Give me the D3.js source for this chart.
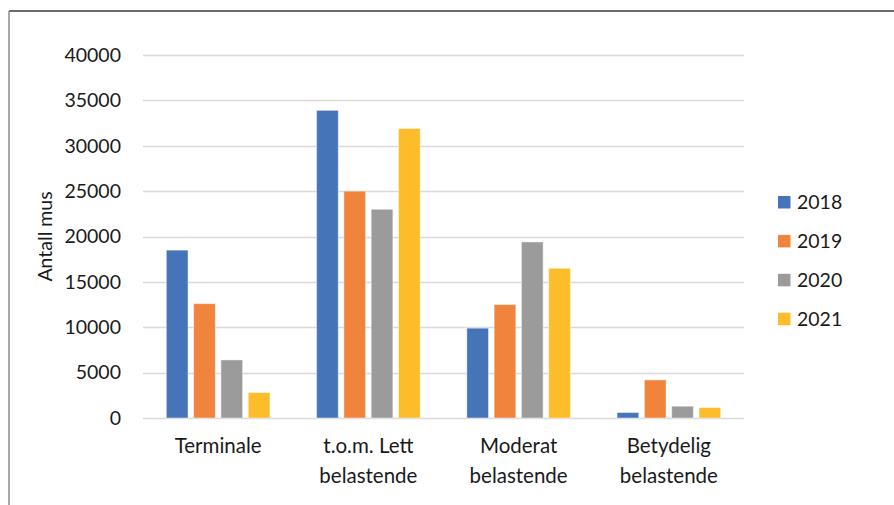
<!DOCTYPE html>
<html>
<head>
<meta charset="utf-8">
<script src="https://cdn.jsdelivr.net/npm/d3@7"></script>
<style>
  html, body { margin: 0; padding: 0; background: #fff; }
  svg { display: block; }
  text { font-family: Lato, "Open Sans", sans-serif; fill: #1a1a1a; }
</style>
</head>
<body>
<svg id="chart" width="894" height="505"></svg>
<script>
// Antall mus per belastningsgrad, 2018–2021
const categories = [
  ["Terminale"],
  ["t.o.m. Lett", "belastende"],
  ["Moderat", "belastende"],
  ["Betydelig", "belastende"]
];
const years = ["2018", "2019", "2020", "2021"];
const values2018 = [18500, 33900, 9900, 600];
const values2019 = [12600, 25000, 12500, 4200];
const values2020 = [6400, 23000, 19400, 1300];
const values2021 = [2800, 31900, 16500, 1150];
const yTicks = [0, 5000, 10000, 15000, 20000, 25000, 30000, 35000, 40000];
const colors = ["#4674B9", "#F0843D", "#9B9B9B", "#FDBD2A"];
const yTitle = "Antall mus";

const series = [values2018, values2019, values2020, values2021];
const catKeys = categories.map(c => c.join(" "));

const svg = d3.select("#chart");

// frame (top and left edges)
svg.append("line").attr("x1", 9).attr("x2", 894).attr("y1", 11).attr("y2", 11)
  .attr("stroke", "#3a3a3a").attr("stroke-width", 1.3);
svg.append("line").attr("x1", 9).attr("x2", 9).attr("y1", 11).attr("y2", 505)
  .attr("stroke", "#7a7a7a").attr("stroke-width", 1.3);

const plot = { left: 143, right: 744, top: 55, bottom: 418 };

const x = d3.scaleBand().domain(catKeys).range([plot.left, plot.right]).padding(0);
const xSub = d3.scaleBand().domain(years).range([0, x.bandwidth()])
  .paddingInner(0.205).paddingOuter(0.854);
const y = d3.scaleLinear().domain([0, 40000]).range([plot.bottom, plot.top]);

// gridlines
svg.append("g").selectAll("line").data(yTicks).join("line")
  .attr("x1", plot.left).attr("x2", plot.right)
  .attr("y1", d => Math.round(y(d)) + 0.5).attr("y2", d => Math.round(y(d)) + 0.5)
  .attr("stroke", "#d9d9d9").attr("stroke-width", 1.3);

// y axis labels
const yAxis = d3.axisLeft(y).tickValues(yTicks).tickSize(0).tickPadding(0)
  .tickFormat(d3.format("d"));
const ya = svg.append("g").attr("transform", `translate(121,0)`).call(yAxis);
ya.select(".domain").remove();
ya.selectAll("text").attr("font-family", "Lato, sans-serif").attr("font-size", 19.5)
  .attr("fill", "#1a1a1a");

// y title
svg.append("text")
  .attr("transform", `translate(52,${(plot.top + plot.bottom) / 2}) rotate(-90)`)
  .attr("text-anchor", "middle")
  .attr("font-size", 19.5)
  .text(yTitle);

// bars
const groups = svg.append("g").selectAll("g").data(catKeys).join("g")
  .attr("transform", d => `translate(${x(d)},0)`);
groups.selectAll("rect")
  .data((d, i) => years.map((yr, j) => ({ yr, j, v: series[j][i] })))
  .join("rect")
  .attr("x", d => xSub(d.yr))
  .attr("width", xSub.bandwidth())
  .attr("y", d => y(d.v))
  .attr("height", d => y(0) - y(d.v))
  .attr("fill", d => colors[d.j])
  .attr("stroke", "#ffffff").attr("stroke-opacity", 0.45).attr("stroke-width", 1);

// category labels
const xl = svg.append("g").selectAll("text").data(categories).join("text")
  .attr("x", (d, i) => x(catKeys[i]) + x.bandwidth() / 2)
  .attr("y", 453)
  .attr("text-anchor", "middle")
  .attr("font-size", 20.5);
xl.selectAll("tspan").data(d => d).join("tspan")
  .attr("x", function () { return d3.select(this.parentNode).attr("x"); })
  .attr("dy", (d, i) => i === 0 ? 0 : 30)
  .text(d => d);

// legend
const legend = svg.append("g").selectAll("g").data(years).join("g")
  .attr("transform", (d, i) => `translate(778,${196 + i * 38.9})`);
legend.append("rect").attr("width", 12.5).attr("height", 12.5)
  .attr("fill", (d, i) => colors[i]);
legend.append("text").attr("x", 19).attr("y", 13).attr("font-size", 19.5).text(d => d);
</script>
</body>
</html>
